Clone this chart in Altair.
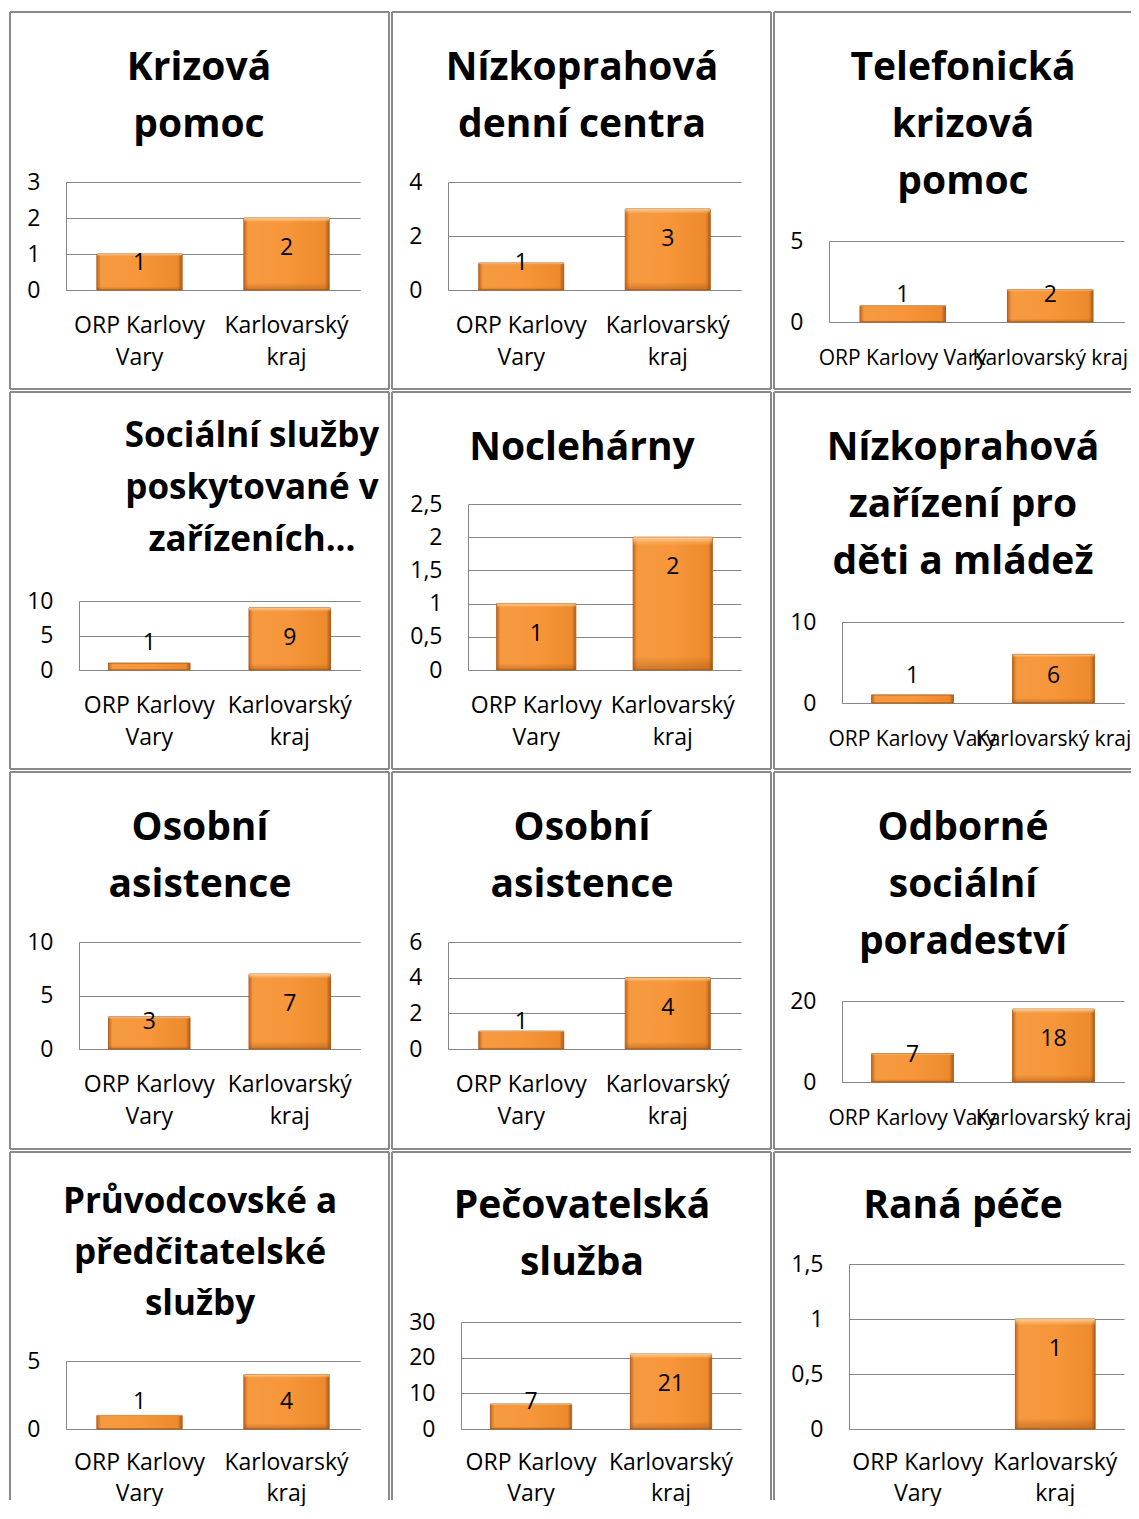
import altair as alt
import pandas as pd

# ---------------- data ----------------
CATEGORIES = ["ORP Karlovy Vary", "Karlovarský kraj"]

TITLES = [
    ["Krizová", "pomoc"],
    ["Nízkoprahová", "denní centra"],
    ["Telefonická", "krizová", "pomoc"],
    ["Sociální služby", "poskytované v", "zařízeních..."],
    ["Noclehárny"],
    ["Nízkoprahová", "zařízení pro", "děti a mládež"],
    ["Osobní", "asistence"],
    ["Osobní", "asistence"],
    ["Odborné", "sociální", "poradeství"],
    ["Průvodcovské a", "předčitatelské", "služby"],
    ["Pečovatelská", "služba"],
    ["Raná péče"],
]
ORP_VALUES = [1, 1, 1, 1, 1, 1, 3, 1, 7, 1, 7, 0]
KRAJ_VALUES = [2, 3, 2, 9, 2, 6, 7, 4, 18, 4, 21, 1]
Y_MAX = [3, 4, 5, 10, 2.5, 10, 10, 6, 20, 5, 30, 1.5]
Y_TICKS = [
    [0, 1, 2, 3], [0, 2, 4], [0, 5],
    [0, 5, 10], [0, 0.5, 1, 1.5, 2, 2.5], [0, 10],
    [0, 5, 10], [0, 2, 4, 6], [0, 20],
    [0, 5], [0, 10, 20, 30], [0, 0.5, 1, 1.5],
]
WRAP_LABELS = [True, True, False, True, True, False, True, True, False, True, True, True]

# ---------------- layout / style ----------------
FONT = "Open Sans"
GRID = "#868686"
FRAME = "#8a8a8a"
LABEL_SIZE = 23

# plot area (left, top, right, bottom) in page pixels
PLOT_BOX = [
    (66, 182, 360, 290), (448, 182, 741, 290), (829, 241, 1124, 322),
    (79, 601, 360, 670), (468, 504, 741, 670), (842, 622, 1124, 703),
    (79, 942, 360, 1049), (448, 942, 741, 1049), (842, 1001, 1124, 1082),
    (66, 1361, 360, 1429), (461, 1322, 741, 1429), (849, 1264, 1124, 1429),
]
# title centre x, first baseline y, font size, line height (page pixels)
TITLE_STYLE = [
    (199, 80, 39, 57), (582, 80, 39, 57), (963, 80, 39, 57),
    (252, 447, 35, 52), (582, 460, 39, 57), (963, 460, 39, 57),
    (200, 840, 39, 57), (582, 840, 39, 57), (963, 840, 39, 57),
    (200, 1213, 35, 51), (582, 1218, 39, 57), (963, 1218, 39, 57),
]
COL_X = [9, 391, 773]
COL_W = [381, 381, 366]
ROW_Y = [11, 391, 771, 1151]
ROW_H = [379, 379, 379, 350]

SIDE_GRAD = alt.LinearGradient(
    gradient="linear", x1=0, x2=1, y1=0, y2=0,
    stops=[
        alt.GradientStop(offset=0, color="#C8671D"),
        alt.GradientStop(offset=0.05, color="#F59A40"),
        alt.GradientStop(offset=0.5, color="#F7963A"),
        alt.GradientStop(offset=0.95, color="#EC8A2C"),
        alt.GradientStop(offset=1, color="#A95A1B"),
    ],
)
TOP_GRAD = alt.LinearGradient(
    gradient="linear", x1=0, x2=0, y1=0, y2=1,
    stops=[
        alt.GradientStop(offset=0, color="rgba(255,214,160,0.9)"),
        alt.GradientStop(offset=0.06, color="rgba(255,200,140,0)"),
        alt.GradientStop(offset=0.9, color="rgba(160,80,10,0)"),
        alt.GradientStop(offset=1, color="rgba(150,75,15,0.45)"),
    ],
)

WRAP_EXPR = ("[slice(datum.label, 0, lastindexof(datum.label, ' ')), "
             "slice(datum.label, lastindexof(datum.label, ' ') + 1)]")


def panel(i):
    r, c = divmod(i, 3)
    fw, fh = COL_W[c], ROW_H[r]
    ox, oy = COL_X[c], ROW_Y[r]
    pl, pt, pr, pb = (PLOT_BOX[i][0] - ox, PLOT_BOX[i][1] - oy,
                      PLOT_BOX[i][2] - ox, PLOT_BOX[i][3] - oy)
    k = Y_MAX[i] / (pb - pt)

    df = pd.DataFrame({"kategorie": CATEGORIES,
                       "hodnota": [ORP_VALUES[i], KRAJ_VALUES[i]]})

    xscale = alt.Scale(domain=CATEGORIES, range=[pl, pr],
                       paddingInner=0.42, paddingOuter=0.21)
    yscale = alt.Scale(domain=[0, Y_MAX[i]], range=[pb, pt], nice=False, zero=True)

    xkw = dict(title=None, labelFont=FONT, labelColor="#000",
               labelAngle=0, ticks=False, tickSize=0,
               domainColor=GRID, domainWidth=1, grid=False, labelOverlap=False,
               labelBound=False, labelLimit=400,
               labelBaseline="top", labelAlign="center", offset=-(fh - pb))
    if WRAP_LABELS[i]:
        xkw["labelExpr"] = WRAP_EXPR
        xkw["labelFontSize"] = LABEL_SIZE
        xkw["labelPadding"] = 24 if r < 3 else 22
        xkw["labelLineHeight"] = 32 if r < 3 else 31
    else:
        xkw["labelFontSize"] = 21
        xkw["labelPadding"] = 25
    xaxis = alt.Axis(**xkw)
    yaxis = alt.Axis(title=None, values=Y_TICKS[i], format="~r",
                     labelExpr="replace(datum.label, '.', ',')",
                     labelFont=FONT, labelFontSize=LABEL_SIZE, labelColor="#000",
                     labelPadding=26, ticks=False, tickSize=0,
                     domainColor=GRID, domainWidth=1, grid=True,
                     gridColor=GRID, gridWidth=1, labelOverlap=False,
                     labelFlush=False, offset=-pl)

    xenc = alt.X("kategorie:N", sort=CATEGORIES, scale=xscale, axis=xaxis)

    base = alt.Chart(df).transform_filter("datum.hodnota > 0")
    bars = base.mark_bar(color=SIDE_GRAD, stroke="#B0601E", strokeWidth=1).encode(
        x=xenc, y=alt.Y("hodnota:Q", scale=yscale, axis=yaxis),
    )
    shade = base.mark_bar(color=TOP_GRAD).encode(
        x=xenc, y=alt.Y("hodnota:Q", scale=yscale, axis=yaxis),
    )
    labels = base.transform_calculate(
        pozice=f"max(datum.hodnota - {30 * k}, {27 * k})"
    ).mark_text(font=FONT, fontSize=LABEL_SIZE, baseline="middle", align="center",
                color="#000").encode(
        x=xenc,
        y=alt.Y("pozice:Q", scale=yscale, axis=yaxis),
        text=alt.Text("hodnota:Q"),
    )

    one = alt.Chart(alt.Data(values=[{"p": 1}]))
    cx, b1, fs, lh = TITLE_STYLE[i]
    title = one.mark_text(font=FONT, fontSize=fs, fontWeight="bold",
                          align="center", baseline="top", lineHeight=lh,
                          color="#000").encode(
        x=alt.value(cx - ox),
        y=alt.value(b1 - round(0.79 * fs) - oy),
        text=alt.value(TITLES[i]),
    )

    sides = [(1, 1, 1, fh - 1), (1, fw - 1, 1, 1)]
    if c < 2:
        sides.append((fw - 1, fw - 1, 1, fh - 1))
    if r < 3:
        sides.append((1, fw - 1, fh - 1, fh - 1))
    frames = [
        one.mark_rule(color=FRAME, strokeWidth=2).encode(
            x=alt.value(a), x2=alt.value(b), y=alt.value(y1), y2=alt.value(y2))
        for a, b, y1, y2 in sides
    ]
    return alt.layer(*frames, title, bars, shade, labels).properties(width=fw, height=fh)


chart = alt.ConcatChart(
    concat=[panel(i) for i in range(12)], columns=3, spacing=1, bounds="flush"
).properties(
    padding={"left": 1, "top": 3, "right": -8, "bottom": 1},
    background="white",
).configure_view(strokeWidth=0)

chart.save("out.html", embed_options={"renderer": "svg", "actions": False})
